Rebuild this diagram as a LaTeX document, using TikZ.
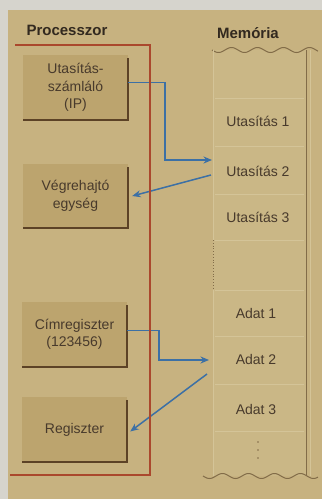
\documentclass[tikz,border=0pt]{standalone}
\usepackage{fontspec}
\setmainfont{Liberation Sans}
\usetikzlibrary{arrows.meta}
\definecolor{bg}{RGB}{199,178,128}
\definecolor{paper}{RGB}{214,212,205}
\definecolor{boxfill}{RGB}{188,164,110}
\definecolor{shadowc}{RGB}{92,66,38}
\definecolor{redl}{RGB}{170,72,45}
\definecolor{bluea}{RGB}{60,112,165}
\definecolor{txt}{RGB}{72,58,44}
\definecolor{memfill}{RGB}{202,183,134}
\definecolor{memline}{RGB}{130,108,72}
\definecolor{sepc}{RGB}{212,196,152}
\begin{document}
\begin{tikzpicture}[x=1pt,y=-1pt,
  cpubox/.style={rectangle, fill=boxfill, minimum width=105pt, minimum height=65pt,
    inner sep=0pt, align=center, font=\fontsize{14}{17.5}\selectfont, text=txt},
  memtext/.style={font=\fontsize{14}{17}\selectfont, text=txt, inner sep=0pt},
  shadowline/.style={draw=shadowc, line width=1.6pt},
  redline/.style={draw=redl, line width=1.2pt},
  arr/.style={draw=bluea, line width=1.5pt, -{Stealth[length=8.5pt,width=7pt]}},
  heading/.style={font=\bfseries\fontsize{15}{18}\selectfont, text=txt!70!black, inner sep=0pt},
  wave/.style={draw=memline, line width=1pt}]
\useasboundingbox (0,0) rectangle (322,499);
\fill[paper] (0,0) rectangle (322,499);
\fill[bg] (8,10) rectangle (322,499);

% memory column
\fill[memfill] (213,50) rectangle (306,476);
\draw[wave] plot[domain=0:106, samples=90, smooth] ({212+\x},{50+2.5*sin(\x*13.85)});
\draw[wave] plot[domain=0:115, samples=90, smooth] ({203+\x},{476+2.5*sin(\x*13.85)});
\draw[memline, line width=1pt] (306,50) -- (306,476);
\draw[sepc, line width=0.8pt] (310,50) -- (310,476);
\draw[sepc, line width=0.8pt] (213,50) -- (213,240);
\draw[sepc, line width=0.8pt] (213,290) -- (213,476);
\draw[memline, line width=0.8pt, dotted] (213,240) -- (213,290);
\foreach \yy in {98,146,194,240,290,336,384,431}
  \draw[sepc, line width=0.6pt] (215,\yy) -- (304,\yy);
\foreach \yy in {442,450,458}
  \fill[memline] (258,\yy) circle (0.9);

\node[heading] (proc) at (67,30) {Processzor};
\node[heading] (mem) at (248,33) {Memória};

\node[memtext] (m1) at (258,121) {Utasítás 1};
\node[memtext] (m2) at (258,171) {Utasítás 2};
\node[memtext] (m3) at (258,217) {Utasítás 3};
\node[memtext] (d1) at (256,313) {Adat 1};
\node[memtext] (d2) at (256,359) {Adat 2};
\node[memtext] (d3) at (256,409) {Adat 3};

% processor boxes
\node[cpubox] (ip) at (75.5,87.5) {Utasítás-\\számláló\\(IP)};
\node[cpubox, minimum height=64pt] (exec) at (75.5,196) {Végrehajtó\\egység};
\node[cpubox] (addr) at (74.5,334.5) {Címregiszter\\(123456)};
\node[cpubox] (reg) at (74.5,429.5) {Regiszter};
\foreach \b in {ip,exec,addr,reg}
  \draw[shadowline] ([yshift=-3pt]\b.north east) -- (\b.south east) -- (\b.south west);

% connectors
\coordinate (in2) at (212,160);
\coordinate (out2) at (211,175);
\coordinate (in5) at (209,360);
\coordinate (out5) at (207,374);
\draw[arr] ([yshift=5pt]ip.east) -| ([xshift=-47pt]in2) -- (in2);
\draw[arr] (out2) -- ([xshift=4pt]exec.east);
\draw[arr] ([yshift=4pt]addr.east) -| ([xshift=-50pt]in5) -- (in5);
\draw[arr] (out5) -- ([xshift=3pt,yshift=-2pt]reg.east);

% processor frame
\draw[redline] (15,45) -- (150,45) -- (150,475) -- (10,475);
\end{tikzpicture}
\end{document}
